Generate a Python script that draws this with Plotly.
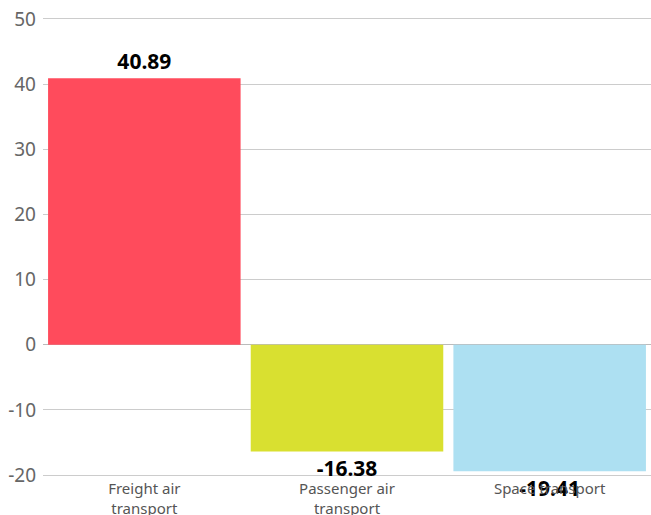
import plotly.graph_objects as go

categories = ["Freight air<br>transport", "Passenger air<br>transport", "Space transport"]
values = [40.89, -16.38, -19.41]
colors = ["#FF4B5C", "#D9E030", "#ADE0F2"]
y_ticks = [-20, -10, 0, 10, 20, 30, 40, 50]
y_tick_labels = ["-20", "-10", "0", "10", "20", "30", "40", "50"]

fig = go.Figure(go.Bar(
    x=categories,
    y=values,
    marker=dict(color=colors, line=dict(width=0)),
    text=[f"{v:.2f}" for v in values],
    textposition="outside",
    textfont=dict(family="Noto Sans", size=21, color="#000000", weight="bold"),
    cliponaxis=False,
    hoverinfo="skip",
))

fig.update_layout(
    width=651, height=515,
    margin=dict(l=43, r=0, t=17, b=38),
    plot_bgcolor="white", paper_bgcolor="white",
    bargap=0.05,
    showlegend=False,
    font=dict(family="Noto Sans"),
    uniformtext=dict(minsize=21, mode="show"),
)
fig.update_yaxes(
    range=[-20.3, 50.3], tickvals=y_ticks, ticktext=y_tick_labels,
    showgrid=True, gridcolor="#cccccc", gridwidth=1,
    zeroline=True, zerolinecolor="#bbbbbb", zerolinewidth=1,
    tickfont=dict(size=19, color="#666666"),
    ticks="", ticklabelstandoff=6, showline=False,
    automargin=False,
)
fig.update_xaxes(
    showgrid=False, showline=False, ticks="",
    tickfont=dict(size=15, color="#555555"),
    ticklabelstandoff=1,
    automargin=False,
)

fig.write_html(
    "out.html",
    config={"displayModeBar": False},
    post_script="document.body.style.margin='0';",
)
